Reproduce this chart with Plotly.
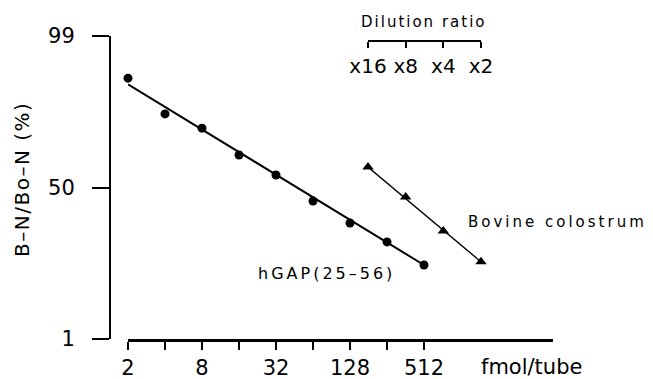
import numpy as np
import plotly.graph_objects as go

# ---- data ----
fmol = [2, 4, 8, 16, 32, 64, 128, 256, 512]
hgap_pct = [96.5, 90.3, 85.8, 72.8, 59.4, 39.9, 25.4, 16.1, 8.7]
hgap_fit_fmol = [2, 512]
hgap_fit_pct = [95.8, 8.7]
dilution = [16, 8, 4, 2]
bovine_pct = [65.0, 42.8, 21.1, 9.5]
bovine_fit_dil = [16, 2]
bovine_fit_pct = [65.0, 9.5]
y_tick_pct = [1, 50, 99]
y_tick_labels = ["1", "50", "99"]
x_tick_labels = ["2", "", "8", "", "32", "", "128", "", "512"]
dil_tick_labels = ["x16", "x8", "x4", "x2"]


def logit(p):
    p = np.asarray(p, dtype=float) / 100.0
    return np.log(p / (1 - p))


# page is 653x379 but the browser body has an 8px margin
OFF = 8
W, H = 653 - OFF, 379 - OFF
FONT = "DejaVu Sans"
EPS = 1e-6


def px(x):
    return (x - OFF) / W


def py(y):
    return (H - (y - OFF)) / H


fig = go.Figure()

fig.add_trace(go.Scatter(x=hgap_fit_fmol, y=logit(hgap_fit_pct), mode="lines",
                         line=dict(color="black", width=2), xaxis="x", yaxis="y",
                         showlegend=False, hoverinfo="skip"))
fig.add_trace(go.Scatter(x=fmol, y=logit(hgap_pct), mode="markers",
                         marker=dict(symbol="circle", size=9, color="black"),
                         xaxis="x", yaxis="y", cliponaxis=False, showlegend=False,
                         name="hGAP(25-56)"))
fig.add_trace(go.Scatter(x=bovine_fit_dil, y=logit(bovine_fit_pct), mode="lines",
                         line=dict(color="black", width=1.4), xaxis="x2", yaxis="y",
                         showlegend=False, hoverinfo="skip"))
fig.add_trace(go.Scatter(x=dilution, y=logit(bovine_pct), mode="markers",
                         marker=dict(symbol="triangle-up", size=10, color="black"),
                         xaxis="x2", yaxis="y", cliponaxis=False, showlegend=False,
                         name="Bovine colostrum"))

oct_px = 37.0
x_left, x_right = 128, 553
lo = np.log10(2)
hi = lo + (x_right - x_left) / oct_px * np.log10(2)

fig.update_layout(
    width=W, height=H,
    margin=dict(l=0, r=0, t=0, b=0),
    paper_bgcolor="white", plot_bgcolor="rgba(0,0,0,0)",
    font=dict(family=FONT, color="black"),
    xaxis=dict(
        type="log", domain=[px(x_left), px(x_right)], range=[lo - EPS, hi],
        anchor="y", showgrid=False, zeroline=False,
        showline=True, linecolor="black", linewidth=2.5,
        ticks="outside", ticklen=8, tickwidth=1.5, tickcolor="black",
        tickvals=fmol, ticktext=x_tick_labels, ticklabelstandoff=0,
        tickfont=dict(size=21, family=FONT, color="black"), automargin=False,
    ),
    xaxis2=dict(
        type="log", domain=[px(368), px(481)],
        range=[np.log10(16) + EPS, np.log10(2) - EPS],
        anchor="free", position=py(41), side="bottom",
        showgrid=False, zeroline=False,
        showline=True, linecolor="black", linewidth=2,
        ticks="outside", ticklen=6, tickwidth=1.5, tickcolor="black",
        tickvals=dilution, ticktext=dil_tick_labels, ticklabelstandoff=1,
        tickfont=dict(size=20, family=FONT, color="black"), automargin=False,
    ),
    yaxis=dict(
        domain=[py(339), py(36)],
        range=[float(logit(1)), float(logit(99))],
        anchor="free", position=px(110),
        showgrid=False, zeroline=False,
        showline=True, linecolor="black", linewidth=2,
        ticks="outside", ticklen=17, tickwidth=1.5, tickcolor="black",
        tickvals=list(logit(y_tick_pct)), ticktext=y_tick_labels,
        ticklabelstandoff=13,
        tickfont=dict(size=21, family=FONT, color="black"), automargin=False,
    ),
    annotations=[
        dict(text='<span style="letter-spacing:1.5px">B–N/Bo–N (%)</span>',
             x=px(22), y=py(180), xref="paper", yref="paper", textangle=-90,
             showarrow=False, font=dict(size=20, family=FONT, color="black"),
             xanchor="center", yanchor="middle"),
        dict(text='<span style="letter-spacing:2px">Dilution ratio</span>',
             x=px(423), y=py(22), xref="paper", yref="paper", showarrow=False,
             font=dict(size=15, family=FONT, color="black"),
             xanchor="center", yanchor="middle"),
        dict(text="fmol/tube", x=px(531), y=py(367), xref="paper", yref="paper",
             showarrow=False, font=dict(size=21, family=FONT, color="black"),
             xanchor="center", yanchor="middle"),
        dict(text='<span style="letter-spacing:3px">Bovine colostrum</span>',
             x=px(557), y=py(222), xref="paper", yref="paper", showarrow=False,
             font=dict(size=15, family=FONT, color="black"),
             xanchor="center", yanchor="middle"),
        dict(text='<span style="letter-spacing:3px">hGAP(25–56)</span>',
             x=px(326), y=py(273), xref="paper", yref="paper", showarrow=False,
             font=dict(size=16, family=FONT, color="black"),
             xanchor="center", yanchor="middle"),
    ],
)

fig.write_html("out.html")
